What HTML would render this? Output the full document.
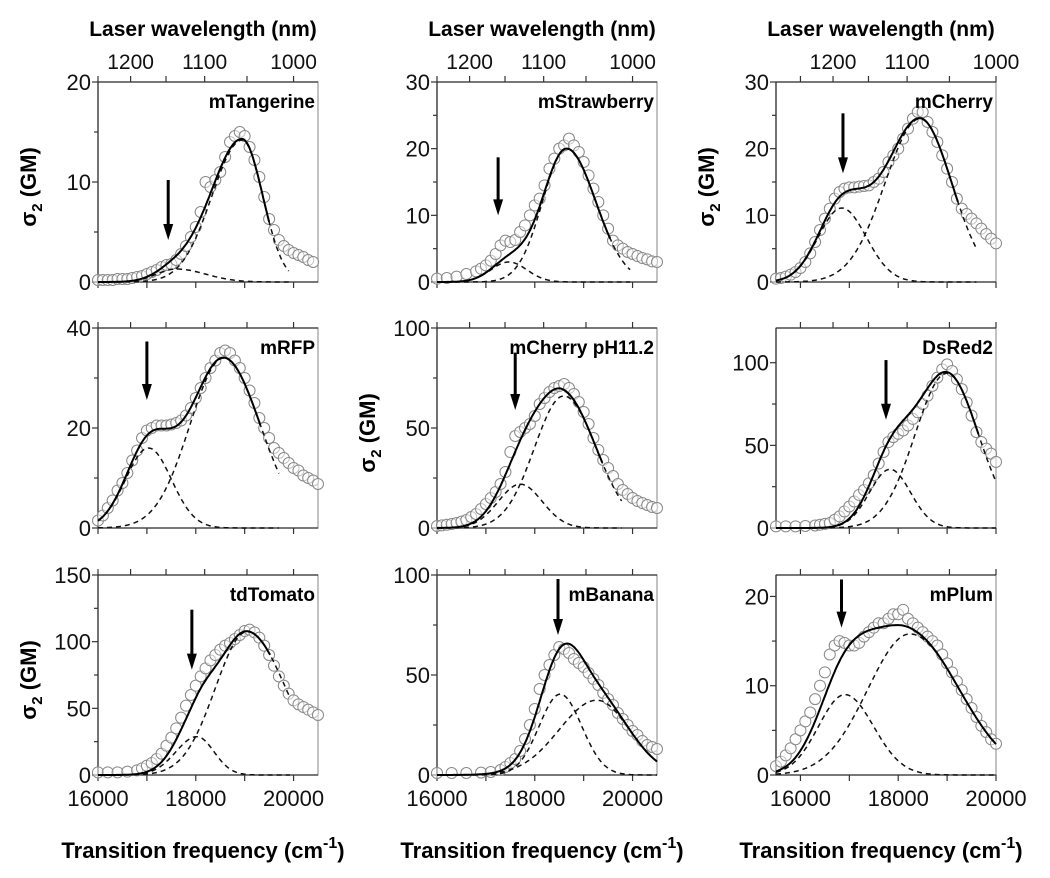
<!DOCTYPE html>
<html><head><meta charset="utf-8"><style>
body{margin:0;background:#fff;}
svg{display:block;font-family:"Liberation Sans",sans-serif;}
</style></head><body>
<svg id="fig" width="1050" height="878" viewBox="0 0 1050 878"></svg>
<script>
// ---- data (wavenumber cm-1 / sigma2 GM) ----
const tangerineX=[16000,16100,16200,16300,16400,16500,16600,16700,16800,16900,17000,17100,17200,17300,17400,17500,17600,17700,17800,17900,18000,18100,18200,18300,18400,18500,18600,18700,18800,18900,19000,19100,19200,19300,19400,19500,19600,19700,19800,19900,20000,20100,20200,20300,20400];
const tangerineY=[0.2,0.2,0.2,0.2,0.3,0.3,0.3,0.4,0.5,0.6,0.8,1.0,1.2,1.5,1.7,1.8,2.2,2.8,3.6,4.5,5.5,7,10,9.5,10.2,11,12.5,14,14.6,15,14.6,13.5,12.2,10.5,8.5,6.3,5.2,4.2,3.6,3.2,2.9,2.7,2.5,2.2,2.0];
const tangerineComps=[[1.3,17600,400,600],[14.2,18950,620,420]];
const strawberryX=[16000,16200,16400,16600,16800,16900,17000,17100,17200,17300,17400,17500,17600,17700,17800,17900,18000,18100,18200,18300,18400,18500,18600,18700,18800,18900,19000,19100,19200,19300,19400,19500,19600,19700,19800,19900,20000,20100,20200,20300,20400,20500];
const strawberryY=[0.5,0.6,0.8,1.2,1.6,2,2.5,3.2,4.2,5.5,6.2,6,6.3,7.5,8.5,10,11.5,12.5,14.5,17,18.5,20,20.5,21.5,20.5,19.5,18,16,14,12,10,8,6.2,5.5,5,4.5,4.2,3.9,3.6,3.4,3.1,3];
const strawberryComps=[[3,17470,370,370],[20,18650,490,595]];
const cherryX=[15500,15600,15700,15800,15900,16000,16100,16200,16300,16400,16500,16600,16700,16800,16900,17000,17100,17200,17300,17400,17500,17600,17700,17800,17900,18000,18100,18200,18300,18400,18500,18600,18700,18800,18900,19000,19100,19200,19300,19400,19500,19600,19700,19800,19900,20000];
const cherryY=[0.5,0.6,0.8,1.1,1.5,2.1,3,4.3,6,7.8,9.5,11,12.5,13.5,14,14.2,14.2,14.3,14.4,14.5,15,15.5,16.5,18,19,20,21.5,23,24.5,25.5,25.5,24,22.5,21,19,17,15,12.5,11,10.2,9.5,8.8,8,7.2,6.5,5.8];
const cherryComps=[[11.1,16843,480,505],[24.5,18445,715,650]];
const rfpX=[16000,16100,16200,16300,16400,16500,16600,16700,16800,16900,17000,17100,17200,17300,17400,17500,17600,17700,17800,17900,18000,18100,18200,18300,18400,18500,18600,18700,18800,18900,19000,19100,19200,19300,19400,19500,19600,19700,19800,19900,20000,20100,20200,20300,20400,20500];
const rfpY=[1.5,2.5,4,5.5,7.5,9,11,13.5,15.5,18,19.5,20,20.5,20.5,20.5,20.7,21,21.5,22.5,24,26,28,30,32,33.5,35,35.5,35,33.5,32,30,27.5,25,22,20,18,16,15,14,13,12,11.5,10.5,10,9.5,8.8];
const rfpComps=[[16,17033,470,470],[34,18570,690,750]];
const ph112X=[16000,16100,16200,16300,16400,16500,16600,16700,16800,16900,17000,17100,17200,17300,17400,17500,17600,17700,17800,17900,18000,18100,18200,18300,18400,18500,18600,18700,18800,18900,19000,19100,19200,19300,19400,19500,19600,19700,19800,19900,20000,20100,20200,20300,20400,20500];
const ph112Y=[1,1.3,1.6,2,2.5,3.2,4,5.5,7,9.5,12,15,18,22,28,38,46,48,50,52,56,62,65,68,70,71,72,70,67,63,58,52,45,39,34,30,26,22,19,17,15,13.5,12.5,11.5,10.5,10];
const ph112Comps=[[21.9,17703,450,450],[66,18592,600,665]];
const dsredX=[15500,15700,15900,16100,16300,16400,16500,16600,16700,16800,16900,17000,17100,17200,17300,17400,17500,17600,17700,17800,17900,18000,18100,18200,18300,18400,18500,18600,18700,18800,18900,19000,19100,19200,19300,19400,19500,19600,19700,19800,19900,20000];
const dsredY=[1,1,1,1.2,1.5,2,2.5,3,5,7,10,13,16,20,23,27,32,39,46,52,55,57,59,62,66,70,75,80,86,91,96,99,95,90,84,76,68,58,52,48,45,40];
const dsredComps=[[35.5,17832,420,420],[93.6,18991,645,650]];
const tomatoX=[16000,16200,16400,16600,16800,16900,17000,17100,17200,17300,17400,17500,17600,17700,17800,17900,18000,18100,18200,18300,18400,18500,18600,18700,18800,18900,19000,19100,19200,19300,19400,19500,19600,19700,19800,19900,20000,20100,20200,20300,20400,20500];
const tomatoY=[2,2,2,2.5,3.5,5,7,9,12,16,22,28,35,43,52,60,67,74,80,86,90,94,97,99,102,105,108,109,107,103,97,90,82,74,67,61,56,53,51,49,47,45];
const tomatoComps=[[28.75,18024,430,350],[107.5,19050,650,790]];
const bananaX=[16000,16300,16600,16900,17100,17300,17400,17500,17600,17700,17800,17900,18000,18100,18200,18300,18400,18500,18600,18700,18800,18900,19000,19100,19200,19300,19400,19500,19600,19700,19800,19900,20000,20100,20200,20300,20400,20500];
const bananaY=[1,1,1,1.2,1.5,2.5,4,6,8,12,18,25,33,43,50,55,60,64,63,61,58,56,54,51,48,45,41,38,35,31,28,25,22,20,17,15,14,13];
const bananaComps=[[40.4,18520,430,440],[37.4,19270,770,665]];
const plumX=[15500,15600,15700,15800,15900,16000,16100,16200,16300,16400,16500,16600,16700,16800,16900,17000,17100,17200,17300,17400,17500,17600,17700,17800,17900,18000,18100,18200,18300,18400,18500,18600,18700,18800,18900,19000,19100,19200,19300,19400,19500,19600,19700,19800,19900,20000];
const plumY=[1,1.5,2.2,3,4,5,6,7,8.5,10,11.5,13.5,14.5,15,14.8,14.5,14.5,14.8,15.5,16,16.5,17,17,17.5,18,18,18.5,17.5,17,16.5,16,15.5,15,14.5,13.5,12.5,11.5,10.5,9.5,8.5,7.5,6.5,5.5,4.8,4,3.5];
const plumComps=[[9,16910,540,585],[15.8,18240,865,1010]];

const panelNames=["mTangerine","mStrawberry","mCherry","mRFP","mCherry pH11.2","DsRed2","tdTomato","mBanana","mPlum"];
const panelX=[tangerineX,strawberryX,cherryX,rfpX,ph112X,dsredX,tomatoX,bananaX,plumX];
const panelY=[tangerineY,strawberryY,cherryY,rfpY,ph112Y,dsredY,tomatoY,bananaY,plumY];
const panelComps=[tangerineComps,strawberryComps,cherryComps,rfpComps,ph112Comps,dsredComps,tomatoComps,bananaComps,plumComps];
const panelXmin=[16000,16000,15500,16000,16000,15500,16000,16000,15500];
const panelXmax=[20500,20500,20000,20500,20500,20000,20500,20500,20000];
const panelYmax=[20,30,30,40,100,121,150,100,22.4];
const panelYticks=[[0,10,20],[0,10,20,30],[0,10,20,30],[0,20,40],[0,50,100],[0,50,100],[0,50,100,150],[0,50,100],[0,10,20]];
const panelFitEnd=[19500,19550,19220,19320,19380,19640,19530,20500,20000];
const panelArrowX=[17436,17250,16870,17000,17600,17750,17920,18475,16840];
const panelArrowTop=[10.2,18.7,25.3,37.3,87.7,101.6,124,98,21.9];
const panelArrowTip=[4.2,10,16.3,25.6,59,65.5,79,70,16.5];
const showYTitle=[true,false,true,false,true,false,true,false,false];
const bottomTickLabels=[16000,18000,20000];
const wavelengthTicks=[1250,1200,1150,1100,1050,1000];
const wavelengthLabels=[1200,1100,1000];

const NS="http://www.w3.org/2000/svg";
const svg=document.getElementById('fig');
function mk(tag,attrs,parent){const e=document.createElementNS(NS,tag);for(const k in attrs)e.setAttribute(k,attrs[k]);(parent||svg).appendChild(e);return e;}
const colL=[98,437,776], rowT=[82,328,575], W=220, H=200;
function comp(c,x){const s=x<c[1]?c[2]:c[3];return c[0]*Math.exp(-Math.pow(x-c[1],2)/(2*s*s));}

for(let i=0;i<9;i++){
  const L=colL[i%3], T=rowT[Math.floor(i/3)], row=Math.floor(i/3);
  const xmin=panelXmin[i], xmax=panelXmax[i], ymax=panelYmax[i];
  const sx=v=>L+(v-xmin)/(xmax-xmin)*W;
  const sy=v=>T+H-v/ymax*H;
  const g=mk('g',{});
  
  
  const fr=mk('rect',{x:L,y:T,width:W,height:H,fill:'none',stroke:'#999','stroke-width':1.2},g);
  
  
  mk('line',{x1:L,y1:T,x2:L,y2:T+H,stroke:'#333','stroke-width':1.3},g);
  mk('line',{x1:L,y1:T+H,x2:L+W,y2:T+H,stroke:'#333','stroke-width':1.3},g);
  mk('line',{x1:L,y1:T,x2:L+W,y2:T,stroke:'#333','stroke-width':1.3},g);
  const yt=panelYticks[i], step=yt[1]-yt[0];
  for(let v=0;v<=ymax+1e-6;v+=step/2){
    const maj=Math.abs(v/step-Math.round(v/step))<1e-6;
    mk('line',{x1:L-(maj?6:4),y1:sy(v),x2:L,y2:sy(v),stroke:'#333','stroke-width':1.2},g);
  }
  yt.forEach(v=>{
    const t=mk('text',{x:L-7,y:sy(v)+8,'text-anchor':'end','font-size':22,fill:'#111'},g);
    t.textContent=v;
    
    
  });
  for(let v=Math.ceil(xmin/1000)*1000;v<=xmax;v+=1000){
    mk('line',{x1:sx(v),y1:T+H,x2:sx(v),y2:T+H+6,stroke:'#333','stroke-width':1.2},g);
  }
  if(row===2){
    bottomTickLabels.forEach(v=>{
      const t=mk('text',{x:sx(v),y:T+H+31,'text-anchor':'middle','font-size':22,fill:'#111'},g);
      t.textContent=v;
      
      
    });
  }
  wavelengthTicks.forEach(w=>{
    const v=2e7/w; if(v<xmin-1||v>xmax+1)return;
    mk('line',{x1:sx(v),y1:T,x2:sx(v),y2:T-6,stroke:'#333','stroke-width':1.2},g);
  });
  if(row===0){
    wavelengthLabels.forEach(w=>{
      const t=mk('text',{x:sx(2e7/w),y:T-13,'text-anchor':'middle','font-size':21,fill:'#111'},g);
      t.textContent=w;
      
      
    });
  }
  const xs=panelX[i], ys=panelY[i];
  for(let k=0;k<xs.length;k++){
    const c=mk('circle',{cx:sx(xs[k]),cy:sy(ys[k]),r:5.5,fill:'#fff','fill-opacity':0.5,stroke:'#888','stroke-width':1},g);
    
    
  }
  const comps=panelComps[i];
  comps.forEach(cp=>{
    let d='';
    const end=Math.min(xmax,panelFitEnd[i]+400);
    for(let x=xmin;x<=end;x+=25){d+=(d?'L':'M')+sx(x).toFixed(1)+','+sy(comp(cp,x)).toFixed(1);}
    const p=mk('path',{d:d,fill:'none',stroke:'#111','stroke-width':1.5,'stroke-dasharray':'5,4'},g);
    
    
  });
  let d='';
  for(let x=xmin;x<=panelFitEnd[i];x+=20){let s=0;comps.forEach(cp=>s+=comp(cp,x));d+=(d?'L':'M')+sx(x).toFixed(1)+','+sy(s).toFixed(1);}
  const fit=mk('path',{d:d,fill:'none',stroke:'#000','stroke-width':2},g);
  
  
  const ax=sx(panelArrowX[i]), a1=sy(panelArrowTop[i]), a2=sy(panelArrowTip[i]);
  const ar=mk('g',{},g);
  
  
  mk('line',{x1:ax,y1:a1,x2:ax,y2:a2-14,stroke:'#000','stroke-width':3},ar);
  mk('polygon',{points:`${ax-5},${a2-16} ${ax+5},${a2-16} ${ax},${a2}`,fill:'#000'},ar);
  const nm=mk('text',{x:L+W-3,y:T+26,'text-anchor':'end','font-size':19,'font-weight':'bold',fill:'#000'},g);
  nm.textContent=panelNames[i];
  
  
  if(showYTitle[i]){
    const yl=mk('text',{transform:`translate(${L-62},${T+H/2+5}) rotate(-90)`,'text-anchor':'middle','font-size':22,'font-weight':'bold',fill:'#000'},g);
    yl.innerHTML='σ<tspan font-size="15" dy="6">2</tspan><tspan dy="-6"> (GM)</tspan>';
    
    
  }
}
colL.forEach(L=>{
  const t=mk('text',{x:L+W/2-5,y:36,'text-anchor':'middle','font-size':21,'font-weight':'bold',fill:'#000'});
  t.textContent='Laser wavelength (nm)';
  
  
  const b=mk('text',{x:L+W/2-5,y:858,'text-anchor':'middle','font-size':22,'font-weight':'bold',fill:'#000'});
  b.innerHTML='Transition frequency (cm<tspan font-size="16" dy="-10">-1</tspan><tspan dy="10">)</tspan>';
  
  
});
</script>
</body></html>
